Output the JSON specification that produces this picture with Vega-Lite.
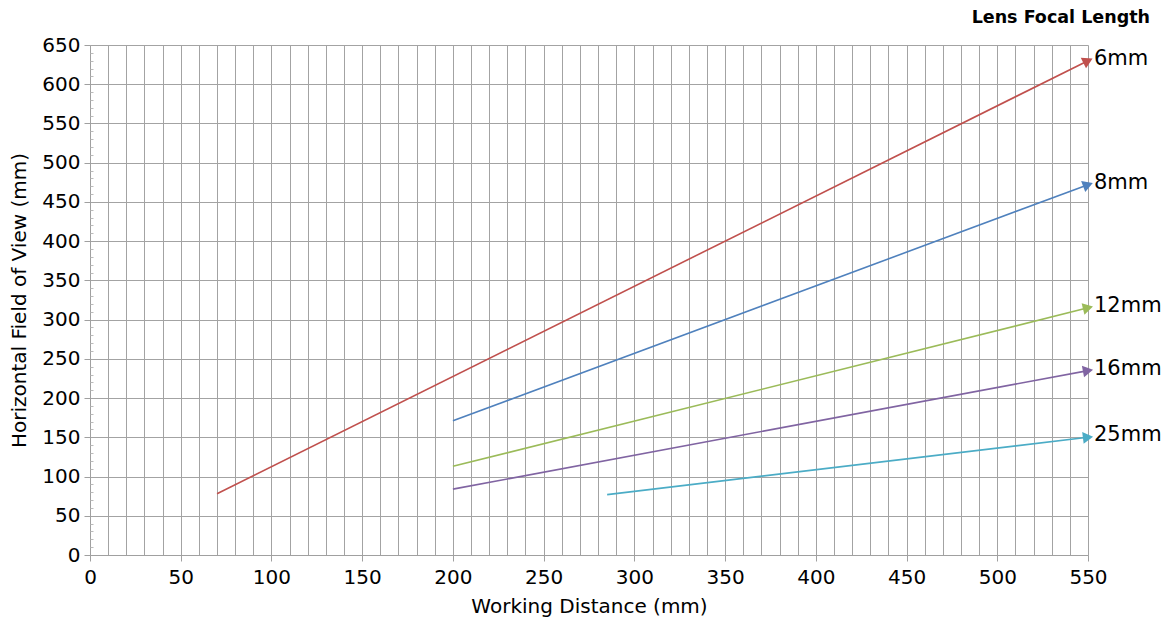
{
  "$schema": "https://vega.github.io/schema/vega-lite/v6.json",
  "width": 998,
  "height": 510,
  "autosize": {"type": "none"},
  "padding": {"left": 90, "top": 45, "right": 80, "bottom": 67},
  "config": {
    "font": "DejaVu Sans",
    "view": {"stroke": null},
    "axis": {"labelFont": "DejaVu Sans", "titleFont": "DejaVu Sans", "labelColor": "#000", "titleColor": "#000", "titleFontWeight": "normal"}
  },
  "title": {"text": "Lens Focal Length", "anchor": "end", "frame": "group", "fontSize": 17.5, "fontWeight": "bold", "font": "DejaVu Sans", "color": "#000", "offset": 9, "dx": 62},
  "datasets": {
    "lines": [
      {"lens": "6mm", "wd": 70, "fov": 78},
      {"lens": "6mm", "wd": 550, "fov": 630},
      {"lens": "8mm", "wd": 200, "fov": 171},
      {"lens": "8mm", "wd": 550, "fov": 472},
      {"lens": "12mm", "wd": 200, "fov": 113},
      {"lens": "12mm", "wd": 550, "fov": 315},
      {"lens": "16mm", "wd": 200, "fov": 84},
      {"lens": "16mm", "wd": 550, "fov": 235},
      {"lens": "25mm", "wd": 285, "fov": 77},
      {"lens": "25mm", "wd": 550, "fov": 150}
    ],
    "ends": [
      {"lens": "6mm", "wd": 550, "fov": 630},
      {"lens": "8mm", "wd": 550, "fov": 472},
      {"lens": "12mm", "wd": 550, "fov": 315},
      {"lens": "16mm", "wd": 550, "fov": 235},
      {"lens": "25mm", "wd": 550, "fov": 150}
    ]
  },
  "resolve": {"axis": {"y": "independent"}},
  "encoding": {
    "x": {"field": "wd", "type": "quantitative", "scale": {"domain": [0, 550], "nice": false},
      "axis": {"title": "Working Distance (mm)", "titleFontSize": 20, "labelFontSize": 20,
        "values": [0,10,20,30,40,50,60,70,80,90,100,110,120,130,140,150,160,170,180,190,200,210,220,230,240,250,260,270,280,290,300,310,320,330,340,350,360,370,380,390,400,410,420,430,440,450,460,470,480,490,500,510,520,530,540,550],
        "labelExpr": "datum.value % 50 === 0 ? datum.label : ''",
        "tickSize": {"condition": {"test": "datum.value % 50 === 0", "value": 6}, "value": 0},
        "tickColor": "#a0a0a0", "domainColor": "#a0a0a0", "gridColor": "#a3a3a3", "gridOpacity": 1,
        "labelPadding": 6, "titlePadding": 9, "labelOverlap": false, "labelFlush": false}}
  },
  "layer": [
    {
      "encoding": {
        "y": {"field": "fov", "type": "quantitative", "scale": {"domain": [0, 650], "nice": false},
          "axis": {"title": "Horizontal Field of View (mm)", "titleFontSize": 20, "labelFontSize": 20,
            "values": [0,50,100,150,200,250,300,350,400,450,500,550,600,650],
            "tickSize": 6, "tickColor": "#a0a0a0", "domainColor": "#a0a0a0", "gridColor": "#a3a3a3", "gridOpacity": 1,
            "labelPadding": 4, "titlePadding": 12, "labelFlush": false}},
        "color": {"field": "lens", "type": "nominal", "legend": null,
          "scale": {"domain": ["6mm", "8mm", "12mm", "16mm", "25mm"], "range": ["#c0504d", "#4f81bd", "#9bbb59", "#8064a2", "#4bacc6"]}}
      },
      "layer": [
        {
          "data": {"name": "lines"},
          "mark": {"type": "line", "strokeWidth": 1.6, "clip": false},
          "encoding": {"detail": {"field": "lens"}}
        },
        {
          "data": {"name": "ends"},
          "transform": [{"filter": "datum.lens === '6mm'"}],
          "mark": {"type": "point", "shape": "triangle-right", "filled": true, "size": 140, "angle": 333.6, "opacity": 1, "clip": false}
        },
        {
          "data": {"name": "ends"},
          "transform": [{"filter": "datum.lens === '8mm'"}],
          "mark": {"type": "point", "shape": "triangle-right", "filled": true, "size": 140, "angle": 339.6, "opacity": 1, "clip": false}
        },
        {
          "data": {"name": "ends"},
          "transform": [{"filter": "datum.lens === '12mm'"}],
          "mark": {"type": "point", "shape": "triangle-right", "filled": true, "size": 140, "angle": 346, "opacity": 1, "clip": false}
        },
        {
          "data": {"name": "ends"},
          "transform": [{"filter": "datum.lens === '16mm'"}],
          "mark": {"type": "point", "shape": "triangle-right", "filled": true, "size": 140, "angle": 349.5, "opacity": 1, "clip": false}
        },
        {
          "data": {"name": "ends"},
          "transform": [{"filter": "datum.lens === '25mm'"}],
          "mark": {"type": "point", "shape": "triangle-right", "filled": true, "size": 140, "angle": 353, "opacity": 1, "clip": false}
        }
      ]
    },
    {
      "data": {"name": "ends"},
      "mark": {"type": "text", "align": "left", "baseline": "middle", "dx": 6, "dy": -2, "fontSize": 21, "font": "DejaVu Sans", "color": "#000", "clip": false},
      "encoding": {
        "y": {"field": "fov", "type": "quantitative",
          "axis": {"orient": "left", "title": null, "labels": false, "grid": false, "domain": false,
            "values": [10,20,30,40,60,70,80,90,110,120,130,140,160,170,180,190,210,220,230,240,260,270,280,290,310,320,330,340,360,370,380,390,410,420,430,440,460,470,480,490,510,520,530,540,560,570,580,590,610,620,630,640],
            "tickSize": -3, "tickColor": "#bbbbbb"}},
        "text": {"field": "lens"}
      }
    }
  ]
}
